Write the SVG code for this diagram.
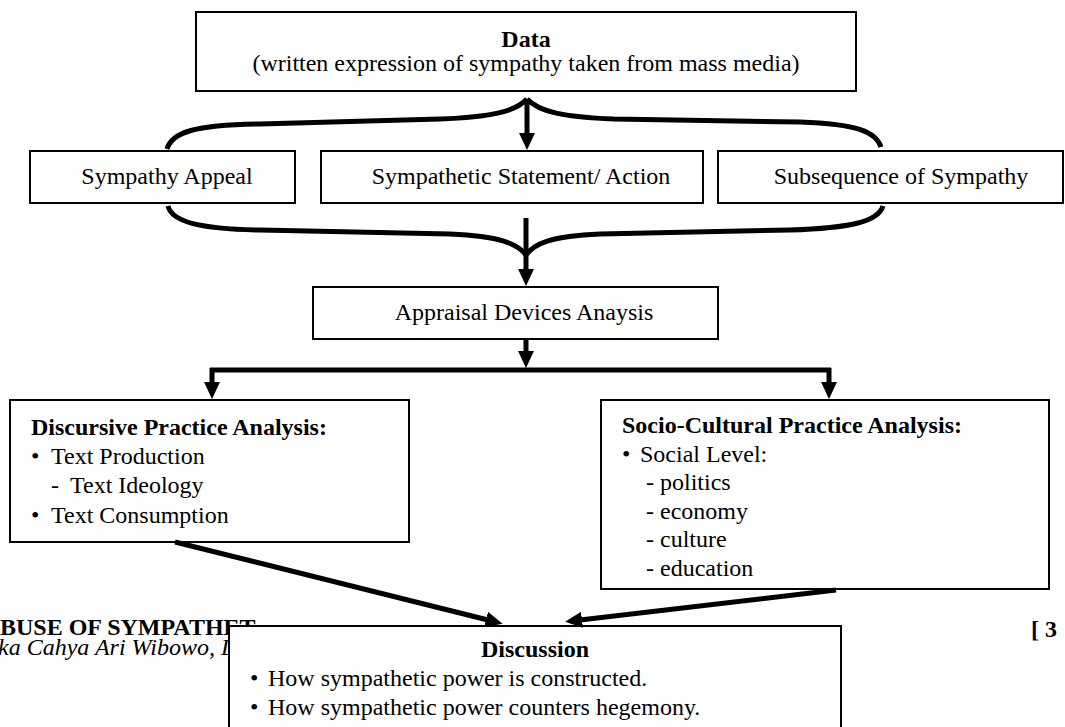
<svg xmlns="http://www.w3.org/2000/svg" width="1065" height="727" viewBox="0 0 1065 727">
<style>
.box{fill:#fff;stroke:#000;stroke-width:2}
.t{font-family:"Liberation Serif","Times New Roman",serif;font-size:24px;fill:#000}
.b{font-weight:bold}
.c{text-anchor:middle}
.con{fill:none;stroke:#000;stroke-width:5}
</style>
<defs>
<marker id="ah" markerUnits="userSpaceOnUse" markerWidth="18" markerHeight="16" refX="2" refY="8" orient="auto">
<path d="M0,0 L17,8 L0,16 z" fill="#000"/>
</marker>
</defs>
<rect width="1065" height="727" fill="#fff"/>
<g id="page-text">
<text class="t b" x="0" y="635" font-size="20.5">BUSE OF SYMPATHET</text>
<text class="t" x="-2" y="655" font-size="20.5" font-style="italic">ka Cahya Ari Wibowo, Dwi</text>
<text class="t b" x="1031" y="637">[ 3</text>
</g>
<g id="data">
<rect class="box" x="196" y="12" width="660" height="79"/>
<text class="t b c" x="526" y="47">Data</text>
<text class="t c" x="526" y="71">(written expression of sympathy taken from mass media)</text>
</g>
<g id="sympathy-appeal">
<rect class="box" x="30" y="151" width="265" height="52"/>
<text class="t c" x="167" y="184">Sympathy Appeal</text>
</g>
<g id="sympathetic-statement">
<rect class="box" x="321" y="151" width="382" height="52"/>
<text class="t c" x="521" y="184">Sympathetic Statement/ Action</text>
</g>
<g id="subsequence">
<rect class="box" x="718" y="151" width="345" height="52"/>
<text class="t c" x="901" y="184">Subsequence of Sympathy</text>
</g>
<g id="appraisal">
<rect class="box" x="313" y="287" width="405" height="52"/>
<text class="t c" x="524" y="320">Appraisal Devices Anaysis</text>
</g>
<g id="discursive">
<rect class="box" x="10" y="400" width="399" height="142"/>
<text class="t b" x="31" y="435">Discursive Practice Analysis:</text>
<text class="t" x="31" y="464">•</text><text class="t" x="51" y="464">Text Production</text>
<text class="t" x="51" y="493">-</text><text class="t" x="70" y="493">Text Ideology</text>
<text class="t" x="31" y="523">•</text><text class="t" x="51" y="523">Text Consumption</text>
</g>
<g id="socio-cultural">
<rect class="box" x="601" y="400" width="448" height="189"/>
<text class="t b" x="622" y="433">Socio-Cultural Practice Analysis:</text>
<text class="t" x="622" y="462">•</text><text class="t" x="640" y="462">Social Level:</text>
<text class="t" x="646" y="490">-</text><text class="t" x="660" y="490">politics</text>
<text class="t" x="646" y="519">-</text><text class="t" x="660" y="519">economy</text>
<text class="t" x="646" y="547">-</text><text class="t" x="660" y="547">culture</text>
<text class="t" x="646" y="576">-</text><text class="t" x="660" y="576">education</text>
</g>
<g id="discussion">
<rect class="box" x="229" y="626" width="612" height="120"/>
<text class="t b c" x="535" y="657">Discussion</text>
<text class="t" x="250" y="686">•</text><text class="t" x="268" y="686">How sympathetic power is constructed.</text>
<text class="t" x="250" y="715">•</text><text class="t" x="268" y="715">How sympathetic power counters hegemony.</text>
</g>
<g id="connectors">
<path class="con" d="M167,149 C172,132 195,125 260,124 L440,119 C490,117 515,112 527,99"/>
<path class="con" d="M527,99 C539,112 564,117 614,119 L800,122 C858,124 876,132 881,147"/>
<line class="con" x1="527" y1="100" x2="527" y2="135" marker-end="url(#ah)"/>
<path class="con" d="M168,206 C172,222 200,229 260,230 L450,234 C500,236 518,244 526,255"/>
<path class="con" d="M883,206 C878,222 850,228 790,230 L600,234 C550,236 534,244 526,255"/>
<line class="con" x1="526" y1="218" x2="526" y2="271" marker-end="url(#ah)"/>
<line class="con" x1="526" y1="340" x2="526" y2="353" marker-end="url(#ah)"/>
<line class="con" x1="210" y1="370" x2="831" y2="370"/>
<line class="con" x1="212" y1="368" x2="212" y2="384" marker-end="url(#ah)"/>
<line class="con" x1="829" y1="368" x2="829" y2="384" marker-end="url(#ah)"/>
<line class="con" x1="175" y1="542" x2="488" y2="620" marker-end="url(#ah)"/>
<line class="con" x1="836" y1="590" x2="580" y2="620" marker-end="url(#ah)"/>
</g>
</svg>
